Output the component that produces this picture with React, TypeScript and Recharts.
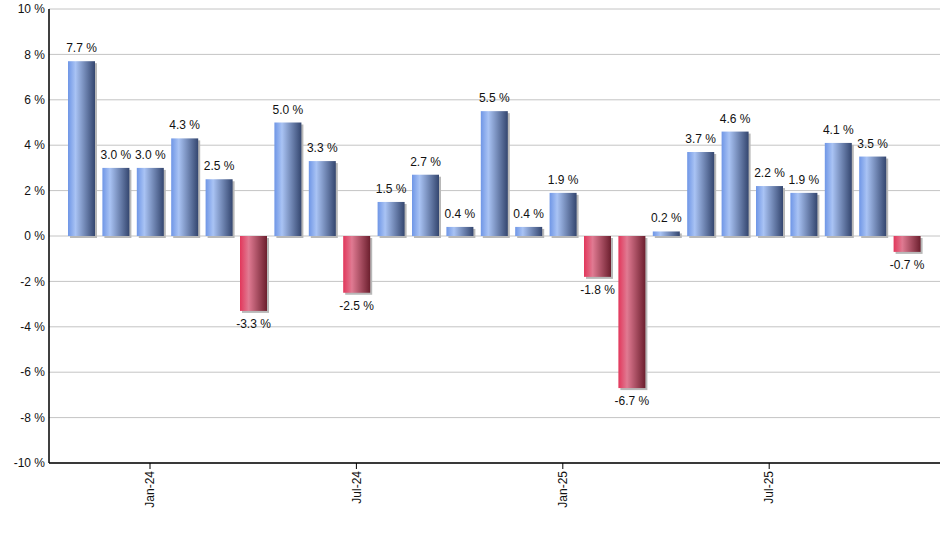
import { BarChart, Bar, XAxis, YAxis, CartesianGrid, LabelList, Cell } from 'recharts';

const months = [
  'Nov-23', 'Dec-23', 'Jan-24', 'Feb-24', 'Mar-24', 'Apr-24', 'May-24', 'Jun-24', 'Jul-24',
  'Aug-24', 'Sep-24', 'Oct-24', 'Nov-24', 'Dec-24', 'Jan-25', 'Feb-25', 'Mar-25', 'Apr-25',
  'May-25', 'Jun-25', 'Jul-25', 'Aug-25', 'Sep-25', 'Oct-25', 'Nov-25',
];
const values = [
  7.7, 3.0, 3.0, 4.3, 2.5, -3.3, 5.0, 3.3, -2.5, 1.5, 2.7, 0.4, 5.5,
  0.4, 1.9, -1.8, -6.7, 0.2, 3.7, 4.6, 2.2, 1.9, 4.1, 3.5, -0.7,
];
const xTicks = ['Jan-24', 'Jul-24', 'Jan-25', 'Jul-25'];
const yTicks = [-10, -8, -6, -4, -2, 0, 2, 4, 6, 8, 10];

const data = months.map((m, i) => ({ month: m, value: values[i] }));

const FONT = 'Arial, "Liberation Sans", sans-serif';

// bar with a soft grey drop shadow and a horizontal gradient
const ShadowBar = (props: any) => {
  const { x, y, width, height, value } = props;
  const top = Math.min(y, y + height);
  const h = Math.abs(height);
  const grad = value < 0 ? 'url(#redGrad)' : 'url(#blueGrad)';
  return (
    <g>
      <rect x={x + 2} y={top + 2} width={width} height={h} fill="#b8b8b8" />
      <rect x={x} y={top} width={width} height={h} fill={grad} />
    </g>
  );
};

const ValueLabel = (props: any) => {
  const { x, y, width, height, value } = props;
  const top = Math.min(y, y + height);
  const bottom = Math.max(y, y + height);
  const ty = value < 0 ? bottom + 17 : top - 9;
  return (
    <text x={x + width / 2} y={ty} textAnchor="middle" fontSize={12} fontFamily={FONT} fill="#111">
      {value.toFixed(1)} %
    </text>
  );
};

const MonthTick = (props: any) => {
  const { x, y, payload } = props;
  return (
    <g transform={`translate(${x},${y})`}>
      <text x={0} y={0} dy="0.35em" transform="rotate(-90)" textAnchor="end" fontSize={12} fontFamily={FONT} fill="#111">
        {payload.value}
      </text>
    </g>
  );
};

export default function App() {
  return (
    <div style={{ position: 'absolute', left: 0, top: 0, background: '#fff' }}>
      <BarChart width={940} height={550} data={data} margin={{ top: 9, right: 0, left: 0, bottom: 0 }}>
        <defs>
          <linearGradient id="blueGrad" x1="0" y1="0" x2="1" y2="0">
            <stop offset="0%" stopColor="#6f96e6" />
            <stop offset="28%" stopColor="#a9c3f4" />
            <stop offset="100%" stopColor="#34466f" />
          </linearGradient>
          <linearGradient id="redGrad" x1="0" y1="0" x2="1" y2="0">
            <stop offset="0%" stopColor="#e2375b" />
            <stop offset="32%" stopColor="#e07a92" />
            <stop offset="100%" stopColor="#6c1f2e" />
          </linearGradient>
        </defs>
        <CartesianGrid vertical={false} stroke="#c4c4c4" />
        <XAxis
          dataKey="month"
          ticks={xTicks}
          interval={0}
          height={87}
          padding={{ left: 15, right: 16 }}
          axisLine={{ stroke: '#000', strokeWidth: 1.5 }}
          tickLine={{ stroke: '#000' }}
          tickSize={6}
          tickMargin={2}
          tick={<MonthTick />}
        />
        <YAxis
          domain={[-10, 10]}
          ticks={yTicks}
          width={49}
          interval={0}
          axisLine={{ stroke: '#000', strokeWidth: 1.5 }}
          tickLine={false}
          tickSize={0}
          tickMargin={4}
          tickFormatter={(v: number) => `${v} %`}
          tick={{ fontSize: 12, fontFamily: FONT, fill: '#111' }}
        />
        <Bar dataKey="value" barSize={27} shape={<ShadowBar />} isAnimationActive={false}>
          {data.map((d) => (
            <Cell key={d.month} />
          ))}
          <LabelList dataKey="value" content={<ValueLabel />} />
        </Bar>
      </BarChart>
    </div>
  );
}
